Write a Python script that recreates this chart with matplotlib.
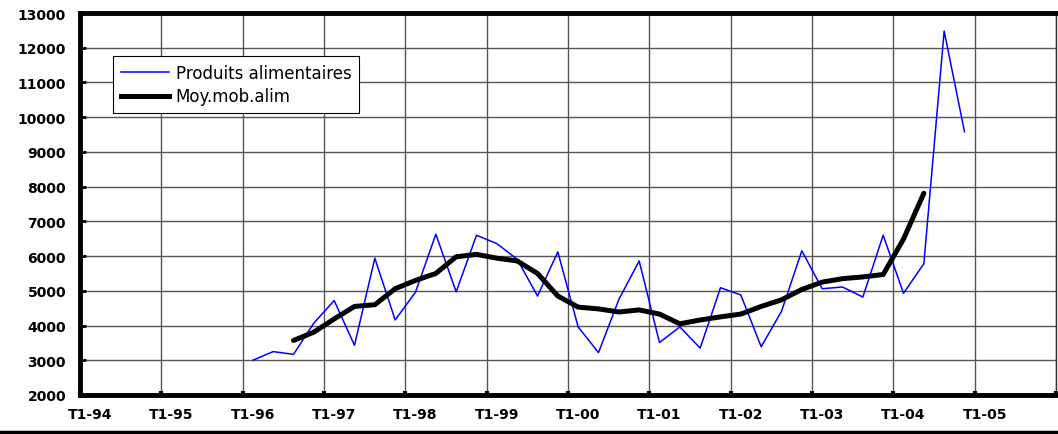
"""Produits alimentaires: quarterly series with its moving average."""

import matplotlib

matplotlib.use("Agg")
import matplotlib.pyplot as plt
from matplotlib.lines import Line2D

# quarter index 0 = T1-94
year_labels = ["T1-94", "T1-95", "T1-96", "T1-97", "T1-98", "T1-99",
               "T1-00", "T1-01", "T1-02", "T1-03", "T1-04", "T1-05"]

alim_start = 8  # T1-96
alim = [3000, 3250, 3170, 4070, 4720, 3430, 5940, 4160, 4960, 6630, 4970, 6600,
        6360, 5910, 4850, 6120, 3960, 3220, 4750, 5860, 3510, 3960, 3350, 5090,
        4880, 3390, 4410, 6150, 5060, 5110, 4820, 6600, 4930, 5780, 12480, 9580]

mm_start = 10  # T3-96
moy_mob = [3570, 3810, 4190, 4550, 4600, 5060, 5300, 5500, 5980, 6050, 5940,
           5860, 5500, 4850, 4530, 4480, 4390, 4450, 4330, 4050, 4160, 4250,
           4330, 4550, 4740, 5040, 5250, 5350, 5400, 5470, 6490, 7810]

y_ticks = list(range(2000, 13001, 1000))


def main() -> None:
    fig = plt.figure(figsize=(10.58, 4.35), dpi=100)
    ax = fig.add_axes([80 / 1058, 39 / 435, 976 / 1058, 382 / 435])

    # categories sit in the middle of each quarter slot
    x_alim = [alim_start + i + 0.5 for i in range(len(alim))]
    x_mm = [mm_start + i + 0.5 for i in range(len(moy_mob))]

    ax.plot(x_alim, alim, color="#0000FF", lw=1.1, label="Produits alimentaires", zorder=3)
    ax.plot(x_mm, moy_mob, color="black", lw=3.6, solid_capstyle="round",
            solid_joinstyle="round", label="Moy.mob.alim", zorder=4)

    ax.set_xlim(0, 48)
    ax.set_ylim(2000, 13000)

    year_ticks = [4 * i for i in range(len(year_labels) + 1)]
    ax.set_xticks(year_ticks)
    ax.set_xticklabels([])
    ax.set_xticks([4 * i + 0.5 for i in range(len(year_labels))], minor=True)
    ax.set_xticklabels(year_labels, minor=True, fontsize=10, fontweight="bold",
                       family="DejaVu Sans")
    ax.tick_params(axis="x", which="minor", length=0, pad=9)
    ax.tick_params(axis="x", which="major", direction="in", length=3, width=3)

    ax.set_yticks(y_ticks)
    ax.set_yticklabels([str(v) for v in y_ticks], fontsize=10, fontweight="bold",
                       family="DejaVu Sans")
    ax.tick_params(axis="y", direction="in", length=4, width=2, pad=10)

    ax.grid(True, which="major", color="#555555", lw=1.0)
    ax.set_axisbelow(True)

    for side in ("left", "bottom", "top"):
        ax.spines[side].set_linewidth(3.5)
    ax.spines["right"].set_linewidth(1.0)
    ax.spines["right"].set_color("#333333")

    handles = [Line2D([], [], color="#0000FF", lw=1.1),
               Line2D([], [], color="black", lw=3.6)]
    leg = ax.legend(handles, ["Produits alimentaires", "Moy.mob.alim"],
                    loc="upper left", bbox_to_anchor=(33 / 976, 0.887),
                    fancybox=False, framealpha=1, edgecolor="black",
                    prop={"family": "DejaVu Sans", "size": 12},
                    handlelength=2.9, handletextpad=0.4, borderpad=0.45,
                    labelspacing=0.35, borderaxespad=0)
    leg.get_frame().set_linewidth(0.8)

    # outer chart border along the bottom
    fig.add_artist(Line2D([0, 1], [2.5 / 435, 2.5 / 435], color="black", lw=2.5,
                          transform=fig.transFigure))

    fig.savefig("out.png", dpi=100)
    plt.close(fig)


if __name__ == "__main__":
    main()
